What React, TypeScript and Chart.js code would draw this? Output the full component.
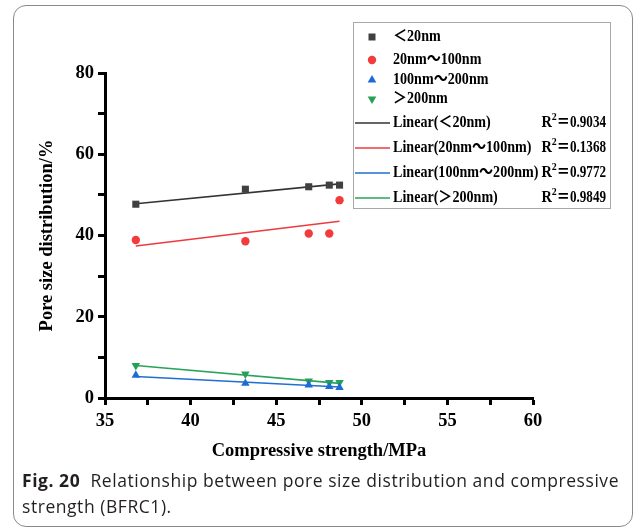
import React, { useEffect, useRef } from "react";
import { Chart, registerables } from "chart.js";

Chart.register(...registerables);

const strength = [36.8, 43.2, 46.9, 48.1, 48.7];
const below20 = [47.7, 51.4, 52.0, 52.4, 52.4];
const from20to100 = [38.9, 38.6, 40.5, 40.5, 48.7];
const from100to200 = [5.6, 3.6, 3.2, 2.8, 2.6];
const above200 = [8.0, 5.9, 4.2, 3.8, 3.8];

const trendX = [36.8, 48.7];
const trendBelow20 = [47.8, 52.7];
const trend20to100 = [37.4, 43.5];
const trend100to200 = [5.3, 2.7];
const trendAbove200 = [8.0, 3.6];

const seriesNames = ["＜20nm", "20nm～100nm", "100nm～200nm", "＞200nm"];
const trendNames = ["Linear(＜20nm)", "Linear(20nm～100nm)", "Linear(100nm～200nm)", "Linear(＞200nm)"];
const rSquared = ["0.9034", "0.1368", "0.9772", "0.9849"];
const markerColors = ["#404040", "#f23b3b", "#1e6bd6", "#26a056"];
const lineColors = ["#333333", "#ee3a3f", "#1f6fd2", "#2aa35c"];

const xTicks = [35, 40, 45, 50, 55, 60];
const yTicks = [0, 20, 40, 60, 80];

const SERIF = '"Liberation Serif", "Times New Roman", "Noto Sans CJK SC", serif';
const AXIS_FONT = 18.5;

function pts(xs: number[], ys: number[]) {
  return xs.map((x, i) => ({ x, y: ys[i] }));
}

// draw horizontally condensed text, returns advance width
function condensed(ctx: CanvasRenderingContext2D, text: string, x: number, y: number, size: number, sx: number, draw = true) {
  ctx.font = "bold " + size + "px " + SERIF;
  const w = ctx.measureText(text).width * sx;
  if (draw) {
    ctx.save();
    ctx.translate(x, y);
    ctx.scale(sx, 1);
    ctx.fillText(text, 0, 0);
    ctx.restore();
  }
  return w;
}

function drawMarker(ctx: CanvasRenderingContext2D, kind: number, x: number, y: number) {
  ctx.save();
  ctx.fillStyle = markerColors[kind];
  ctx.beginPath();
  if (kind === 0) {
    const s = 3.5;
    ctx.rect(x - s, y - s, 2 * s, 2 * s);
  } else if (kind === 1) {
    ctx.arc(x, y, 4.2, 0, Math.PI * 2);
  } else if (kind === 2) {
    const r = 5;
    ctx.moveTo(x, y - r);
    ctx.lineTo(x + r * 0.866, y + r * 0.5);
    ctx.lineTo(x - r * 0.866, y + r * 0.5);
    ctx.closePath();
  } else {
    const r = 5;
    ctx.moveTo(x, y + r);
    ctx.lineTo(x + r * 0.866, y - r * 0.5);
    ctx.lineTo(x - r * 0.866, y - r * 0.5);
    ctx.closePath();
  }
  ctx.fill();
  ctx.restore();
}

const legendPlugin = {
  id: "boxLegend",
  afterDraw(chart: any) {
    const ctx: CanvasRenderingContext2D = chart.ctx;
    const bx = 353, by = 22, bw = 257, bh = 186;
    const SX = 0.88;
    ctx.save();
    ctx.fillStyle = "#ffffff";
    ctx.fillRect(bx, by, bw, bh);
    ctx.strokeStyle = "#a8a8a8";
    ctx.lineWidth = 1;
    ctx.strokeRect(bx + 0.5, by + 0.5, bw, bh);
    ctx.fillStyle = "#000";
    ctx.textBaseline = "middle";
    ctx.textAlign = "left";
    const markerRows = [37, 60, 80, 99];
    markerRows.forEach((ry, i) => {
      drawMarker(ctx, i, 372, ry);
      ctx.fillStyle = "#000";
      condensed(ctx, seriesNames[i], 393, ry, 16, SX);
    });
    const lineRows = [123, 148, 173, 198];
    lineRows.forEach((ry, i) => {
      ctx.strokeStyle = lineColors[i];
      ctx.lineWidth = 1.5;
      ctx.beginPath();
      ctx.moveTo(355, ry);
      ctx.lineTo(390, ry);
      ctx.stroke();
      ctx.fillStyle = "#000";
      condensed(ctx, trendNames[i], 393, ry, 16, SX);
      const tail = "＝" + rSquared[i];
      const tailW = condensed(ctx, tail, 0, 0, 16, 0.82, false);
      const supW = condensed(ctx, "2", 0, 0, 11, 0.9, false);
      const rW = condensed(ctx, "R", 0, 0, 16, 0.9, false);
      const endX = 606;
      const startX = endX - tailW - supW - rW;
      condensed(ctx, "R", startX, ry, 16, 0.9);
      condensed(ctx, "2", startX + rW, ry - 6, 11, 0.9);
      condensed(ctx, tail, startX + rW + supW, ry, 16, 0.82);
    });
    ctx.restore();
  },
};

export default function App() {
  const ref = useRef<HTMLCanvasElement | null>(null);

  useEffect(() => {
    if (!ref.current) return;
    const scatterStyles = ["rect", "circle", "triangle", "triangle"];
    const radii = [5, 4.2, 4.9, 4.9];
    const seriesData = [below20, from20to100, from100to200, above200];
    const trendData = [trendBelow20, trend20to100, trend100to200, trendAbove200];
    const datasets: any[] = [];
    seriesData.forEach((ys, i) => {
      datasets.push({
        type: "scatter",
        label: seriesNames[i],
        data: pts(strength, ys),
        pointStyle: scatterStyles[i],
        pointRotation: i === 3 ? 180 : 0,
        pointRadius: radii[i],
        pointBackgroundColor: markerColors[i],
        pointBorderWidth: 0,
        borderColor: markerColors[i],
        showLine: false,
      });
    });
    trendData.forEach((ys, i) => {
      datasets.push({
        type: "line",
        label: trendNames[i],
        data: pts(trendX, ys),
        borderColor: lineColors[i],
        borderWidth: 1.6,
        pointRadius: 0,
        fill: false,
        showLine: true,
      });
    });

    const axisFont = { family: SERIF, size: AXIS_FONT, weight: "bold" };

    const chart = new Chart(ref.current, {
      type: "scatter",
      data: { datasets },
      plugins: [legendPlugin],
      options: {
        animation: false,
        responsive: false,
        devicePixelRatio: 1,
        layout: { padding: { left: 0, top: 73, right: 104, bottom: 0 } },
        plugins: { legend: { display: false }, tooltip: { enabled: false } },
        scales: {
          x: {
            type: "linear",
            min: 35,
            max: 60,
            afterFit: (s: any) => {
              s.height = 72;
            },
            afterBuildTicks: (s: any) => {
              const t: any[] = [];
              for (let v = 35; v <= 60; v += 2.5) t.push({ value: v });
              s.ticks = t;
            },
            ticks: {
              autoSkip: false,
              maxRotation: 0,
              padding: 5,
              color: "#000",
              font: axisFont,
              callback: (v: any) => (xTicks.includes(Number(v)) ? String(v) : ""),
            },
            grid: {
              drawOnChartArea: false,
              drawTicks: true,
              tickLength: 7,
              tickWidth: 3,
              tickColor: "#000",
            },
            border: { display: true, width: 3, color: "#000" },
            title: {
              display: true,
              text: "Compressive strength/MPa",
              color: "#000",
              font: axisFont,
              padding: { top: 0, bottom: 8 },
            },
          },
          y: {
            type: "linear",
            min: 0,
            max: 80,
            afterFit: (s: any) => {
              s.width = 105;
            },
            afterBuildTicks: (s: any) => {
              const t: any[] = [];
              for (let v = 0; v <= 80; v += 10) t.push({ value: v });
              s.ticks = t;
            },
            ticks: {
              autoSkip: false,
              padding: 4,
              color: "#000",
              font: axisFont,
              callback: (v: any) => (yTicks.includes(Number(v)) ? String(v) : ""),
            },
            grid: {
              drawOnChartArea: false,
              drawTicks: true,
              tickLength: 7,
              tickWidth: 3,
              tickColor: "#000",
            },
            border: { display: true, width: 3, color: "#000" },
            title: {
              display: true,
              text: "Pore size distribution/%",
              color: "#000",
              font: axisFont,
              padding: { top: 36, bottom: 0 },
            },
          },
        },
      },
    } as any);
    return () => chart.destroy();
  }, []);

  return (
    <div style={{ position: "fixed", left: 0, top: 0, width: 637, height: 532, background: "#fff", overflow: "hidden" }}>
      <div
        style={{
          position: "absolute",
          left: 13,
          top: 5,
          width: 620,
          height: 522,
          border: "1px solid #8a8a8a",
          borderRadius: 13,
          boxSizing: "border-box",
        }}
      />
      <canvas ref={ref} width={637} height={470} style={{ position: "absolute", left: 0, top: 0, width: 637, height: 470 }} />
      <div
        style={{
          position: "absolute",
          left: 22,
          top: 467,
          width: 610,
          fontFamily: '"Open Sans", "Noto Sans", sans-serif',
          fontSize: 17.5,
          letterSpacing: "0.55px",
          lineHeight: "26px",
          color: "#231f20",
        }}
      >
        <span style={{ fontWeight: 700 }}>Fig. 20</span>
        {"\u00a0 "}Relationship between pore size distribution and compressive strength (BFRC1).
      </div>
    </div>
  );
}
